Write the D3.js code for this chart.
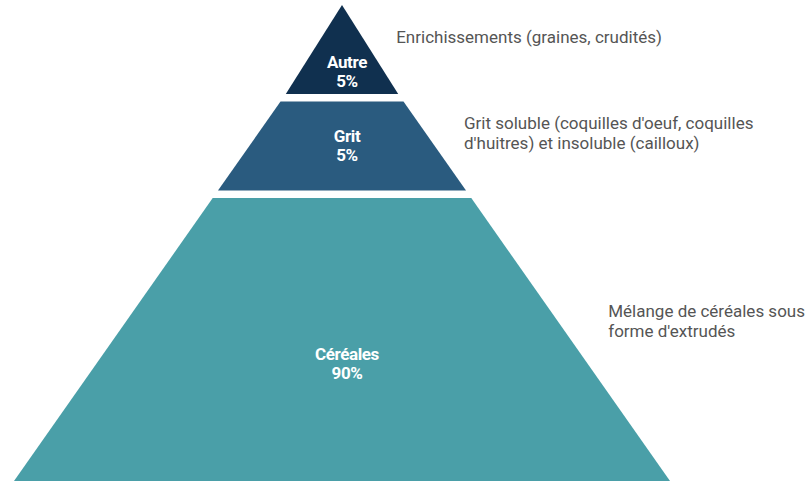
<!DOCTYPE html>
<html>
<head>
<meta charset="utf-8">
<script src="https://cdn.jsdelivr.net/npm/d3@7"></script>
<style>
  body { margin: 0; background: #fff; }
  svg { display: block; font-family: Roboto, "Noto Sans", sans-serif; }
</style>
</head>
<body>
<div id="the_chart"></div>
<script>
// data, top to bottom
var categories = ["Autre", "Grit", "Céréales"];
var values = [5, 5, 90];
var notes = [
    ["Enrichissements (graines, crudités)"],
    ["Grit soluble (coquilles d'oeuf, coquilles", "d'huitres) et insoluble (cailloux)"],
    ["Mélange de céréales sous", "forme d'extrudés"]
];
var colors = ["#10304f", "#2a5b7f", "#4a9fa8"];

var w = 809;
var h = 481;
var top_y = 5;
var gap = 7.5;
var cx = 342;

var svg = d3.select("#the_chart")
            .append("svg")
            .attr("width", w)
            .attr("height", h);

// segment height grows slower than the value
var hscale = d3.scalePow().exponent(0.4)
                .domain([0, d3.sum(values)])
                .range([0, 1]);
var raw = values.map(function(v) { return hscale(v); });
var avail = h - top_y - gap * (values.length - 1);
var rawSum = d3.sum(raw);

// half width of the pyramid at a given y
var halfw = d3.scaleLinear()
              .domain([14, h])
              .range([0, 328])
              .clamp(true);

var segs = [];
var y = top_y;
values.forEach(function(v, i) {
    var sh = raw[i] / rawSum * avail;
    segs.push({name: categories[i], value: v, note: notes[i], color: colors[i],
               y0: y, y1: y + sh});
    y += sh + gap;
});

var g = svg.selectAll("g.seg")
    .data(segs)
  .enter().append("g")
    .attr("class", "seg");

g.append("path")
    .attr("fill", function(d) { return d.color; })
    .attr("d", function(d, i) {
        var a = i == 0 ? 0 : halfw(d.y0);
        var b = halfw(d.y1);
        return "M" + (cx - a) + "," + d.y0 + "L" + (cx + a) + "," + d.y0 +
               "L" + (cx + b) + "," + d.y1 + "L" + (cx - b) + "," + d.y1 + "Z";
    });

// label in the middle of the biggest rectangle that fits in the segment
g.append("text")
    .attr("fill", "#fff")
    .attr("font-weight", "bold")
    .attr("font-size", "17px")
    .attr("text-anchor", "middle")
    .attr("letter-spacing", "-0.4px")
    .each(function(d, i) {
        var a = i == 0 ? 0 : 2 * halfw(d.y0);
        var b = 2 * halfw(d.y1);
        var hh = d.y1 - d.y0;
        var s = Math.max(0, (b - 2 * a) / (2 * (b - a)));
        var yc = d.y0 + hh * (s + 1) / 2;
        var t = d3.select(this);
        t.append("tspan").attr("x", cx + 5).attr("y", yc - 4).text(d.name);
        t.append("tspan").attr("x", cx + 5).attr("y", yc + 15).text(d.value + "%");
    });

// notes on the right
g.append("text")
    .attr("fill", "#555")
    .attr("font-size", "17px")
    .each(function(d) {
        var t = d3.select(this);
        var hh = d.y1 - d.y0;
        var yc = d.y0 + 0.47 * hh - 10;
        var n = d.note.length;
        d.note.forEach(function(line, k) {
            t.append("tspan")
             .attr("y", yc + (k - (n - 1) / 2) * 20 + 6)
             .text(line);
        });
        var maxw = 0;
        t.selectAll("tspan").each(function() {
            maxw = Math.max(maxw, this.getComputedTextLength());
        });
        var x = Math.min(cx + halfw(d.y1) - 2, w - 4 - maxw);
        t.selectAll("tspan").attr("x", x);
    });
</script>
</body>
</html>
